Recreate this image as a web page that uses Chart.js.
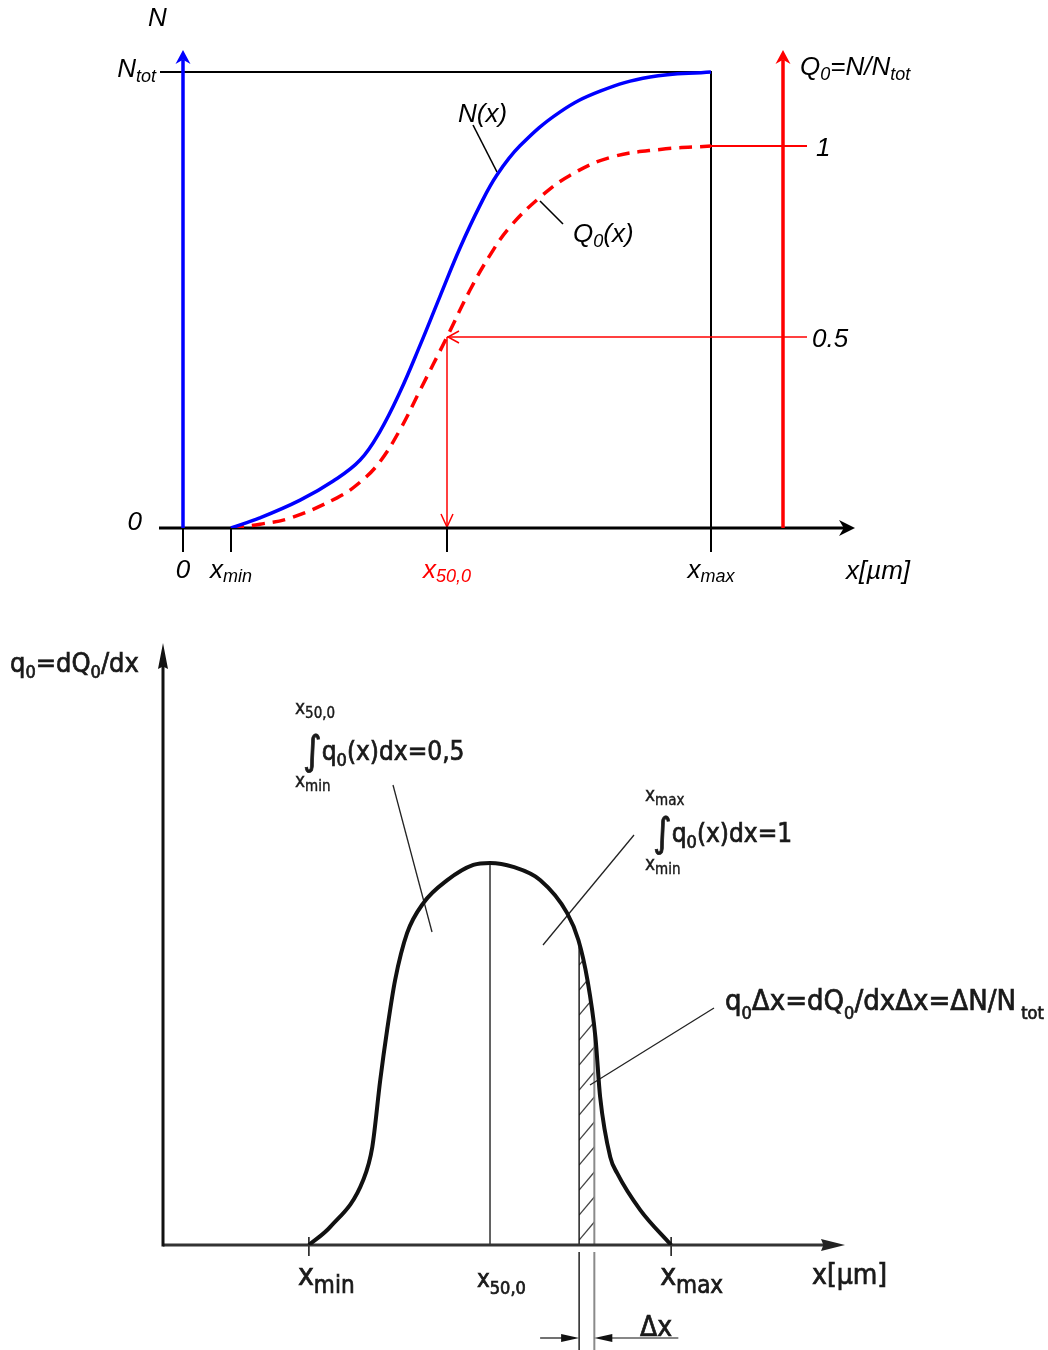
<!DOCTYPE html>
<html>
<head>
<meta charset="utf-8">
<script src="https://cdn.jsdelivr.net/npm/chart.js@4.4.1/dist/chart.umd.min.js"></script>
<style>
  body { margin: 0; background: #fff; }
  canvas { display: block; }
</style>
</head>
<body>
<canvas id="cumulative" width="1048" height="600"></canvas>
<canvas id="density" width="1048" height="750"></canvas>
<script>
// particle size x on an arbitrary scale: xmin = 1, xmax = 11
const nSizes = [1.0, 1.6, 2.44, 3.13, 3.69, 4.1, 4.52, 4.94, 5.35, 5.77, 6.19, 6.54, 7.02, 7.85, 8.69, 9.73, 11.0];
const nCount = [0, 0.022, 0.061, 0.103, 0.149, 0.211, 0.298, 0.401, 0.507, 0.614, 0.708, 0.774, 0.838, 0.912, 0.958, 0.989, 1.0]; // N / Ntot

const q0Sizes = [1.0, 1.6, 2.23, 3.21, 3.69, 4.1, 4.52, 4.94, 5.5, 5.98, 6.4, 6.81, 7.44, 8.06, 8.9, 9.94, 11.0];
const q0Cum = [0, 0.010, 0.026, 0.079, 0.120, 0.173, 0.257, 0.361, 0.5, 0.623, 0.715, 0.788, 0.866, 0.923, 0.970, 0.991, 1.0];

const topTicks = [0, 1, 5.5, 11];
const topTickLabels = [[['0', '']], [['x', ''], ['min', 'sub']], [['x', ''], ['50,0', 'sub']], [['x', ''], ['max', 'sub']]];
const q0Levels = [0.5, 1];
const q0LevelLabels = ['0.5', '1'];
const q0AxisAt = 12.5;

// density q0 = dQ0/dx
const densSizes = [1.0, 1.59, 2.5, 2.75, 2.97, 3.16, 3.38, 3.71, 4.16, 4.82, 5.54, 6.0, 6.64, 7.39, 8.13, 8.44, 8.69, 8.91, 9.04, 9.32, 9.51, 10.15, 11.0];
const densQ0 = [0, 0.045, 0.162, 0.244, 0.411, 0.536, 0.660, 0.777, 0.852, 0.909, 0.947, 0.952, 0.942, 0.909, 0.827, 0.760, 0.660, 0.518, 0.369, 0.219, 0.179, 0.087, 0];

const bottomTicks = [1, 6, 11];
const bottomTickLabels = [[['x', ''], ['min', 'sub']], [['x', ''], ['50,0', 'sub']], [['x', ''], ['max', 'sub']]];
const deltaX = [8.46, 8.88];

const ARIAL = '"Liberation Sans", Arial, sans-serif';
const DIN = '"DejaVu Sans Condensed", "DejaVu Sans", sans-serif';

function fontOf(family, size, italic) {
  return (italic ? 'italic ' : '') + size + 'px ' + family;
}

// text built from [string, kind, size, dy] parts; kind is '' or 'sub'
function richText(ctx, parts, x, y, o) {
  const size = o.size;
  const subSize = o.subSize || Math.round(size * 0.68);
  ctx.save();
  if ('fontStretch' in ctx && o.stretch) ctx.fontStretch = o.stretch;
  const pieces = parts.map(([t, kind, s0, dy0]) => {
    const s = s0 || (kind ? subSize : size);
    ctx.font = fontOf(o.family, s, o.italic);
    return { t, kind, s, dy0: dy0 || 0, w: ctx.measureText(t).width };
  });
  const total = pieces.reduce((a, p) => a + p.w, 0);
  let cx = o.align === 'center' ? x - total / 2 : o.align === 'right' ? x - total : x;
  ctx.fillStyle = o.color || '#000';
  ctx.strokeStyle = o.color || '#000';
  ctx.lineWidth = o.weight || 0;
  ctx.textBaseline = 'alphabetic';
  ctx.textAlign = 'left';
  for (const p of pieces) {
    ctx.font = fontOf(o.family, p.s, o.italic);
    const dy = (p.kind === 'sub' ? (o.drop !== undefined ? o.drop : size * 0.2) : 0) + p.dy0;
    ctx.fillText(p.t, cx, y + dy);
    if (o.weight) ctx.strokeText(p.t, cx, y + dy);
    cx += p.w;
  }
  ctx.restore();
}

function line(ctx, x1, y1, x2, y2, color, width, dash) {
  ctx.save();
  ctx.strokeStyle = color;
  ctx.lineWidth = width;
  ctx.setLineDash(dash || []);
  ctx.beginPath();
  ctx.moveTo(x1, y1);
  ctx.lineTo(x2, y2);
  ctx.stroke();
  ctx.restore();
}

// filled head with a notch at the back
function notchedHead(ctx, x, y, angle, len, half, color, notch) {
  ctx.save();
  ctx.translate(x, y);
  ctx.rotate(angle);
  ctx.beginPath();
  ctx.moveTo(0, 0);
  ctx.lineTo(-len, -half);
  ctx.lineTo(-len * (notch || 1), 0);
  ctx.lineTo(-len, half);
  ctx.closePath();
  ctx.fillStyle = color;
  ctx.fill();
  ctx.restore();
}

function openHead(ctx, x, y, angle, len, half, color, width) {
  ctx.save();
  ctx.translate(x, y);
  ctx.rotate(angle);
  ctx.strokeStyle = color;
  ctx.lineWidth = width;
  ctx.beginPath();
  ctx.moveTo(-len, -half);
  ctx.lineTo(0, 0);
  ctx.lineTo(-len, half);
  ctx.stroke();
  ctx.restore();
}

const UP = -Math.PI / 2, DOWN = Math.PI / 2, LEFT = Math.PI, RIGHT = 0;

const cumulativeDecor = {
  id: 'cumulativeDecor',
  beforeDatasetsDraw(chart) {
    const { ctx, chartArea: a } = chart;
    const x = chart.scales.x, yN = chart.scales.yN, yQ = chart.scales.yQ;
    const base = yN.getPixelForValue(0);
    const nTop = yN.getPixelForValue(1);
    const x0 = x.getPixelForValue(0);
    const xEnd = x.getPixelForValue(topTicks[3]);
    const qAxis = x.getPixelForValue(q0AxisAt);

    // Ntot level and the xmax drop line
    line(ctx, a.left + 1, nTop, xEnd, nTop, '#000', 2);
    line(ctx, xEnd, nTop - 1, xEnd, base + 24, '#000', 2);

    // tick marks below the axis
    topTicks.forEach(t => {
      const px = x.getPixelForValue(t);
      line(ctx, px, base, px, base + 24, '#000', 2);
    });

    // Q0 levels: 1 starts at the curve end, 0.5 points back to the curve
    q0Levels.forEach(v => {
      const py = yQ.getPixelForValue(v);
      const from = v === 1 ? xEnd : x.getPixelForValue(topTicks[2]);
      line(ctx, from, py, qAxis + 24, py, '#ff0000', v === 1 ? 2 : 1.5);
    });
    const xm = x.getPixelForValue(topTicks[2]);
    const ym = yQ.getPixelForValue(0.5);
    openHead(ctx, xm + 1, ym, LEFT, 11, 6, '#ff0000', 1.5);
    line(ctx, xm, ym, xm, base - 1, '#ff0000', 1.5);
    openHead(ctx, xm, base - 1, DOWN, 13, 6, '#ff0000', 1.5);

    // x axis
    line(ctx, a.left, base, a.right - 10, base, '#000', 3);
    notchedHead(ctx, a.right, base, RIGHT, 16, 8, '#000', 0.7);

    // N axis (blue) and Q0 axis (red)
    line(ctx, x0, base, x0, a.top + 10, '#0000ff', 3.5);
    notchedHead(ctx, x0, a.top, UP, 14, 7.5, '#0000ff', 0.7);
    line(ctx, qAxis, base, qAxis, a.top + 10, '#ff0000', 3.5);
    notchedHead(ctx, qAxis, a.top, UP, 14, 7.5, '#ff0000', 0.7);

    // leaders to the curve labels
    line(ctx, 473, 125, 497, 172, '#000', 1.6);
    line(ctx, 540, 201, 563, 224, '#000', 1.6);
  },
  afterDraw(chart) {
    const { ctx } = chart;
    const x = chart.scales.x, yN = chart.scales.yN, yQ = chart.scales.yQ;
    const base = yN.getPixelForValue(0);
    const qAxis = x.getPixelForValue(q0AxisAt);
    const t = { family: ARIAL, italic: true, size: 26, subSize: 18 };

    richText(ctx, [['N', '']], 148, 26, t);
    richText(ctx, [['N', ''], ['tot', 'sub']], 156, yN.getPixelForValue(1) + 5, { ...t, align: 'right', drop: 5 });
    richText(ctx, [['Q', ''], ['0', 'sub'], ['=N/N', ''], ['tot', 'sub']], qAxis + 17, 75, { ...t, drop: 5 });
    richText(ctx, [['0', '']], 142, base + 2, { ...t, align: 'right' });

    q0Levels.forEach((v, i) => {
      richText(ctx, [[q0LevelLabels[i], '']], qAxis + (v === 1 ? 33 : 29), yQ.getPixelForValue(v) + 10, t);
    });

    topTicks.forEach((tv, i) => {
      richText(ctx, topTickLabels[i], x.getPixelForValue(tv), base + 50, {
        ...t, align: 'center', drop: 4, color: i === 2 ? '#ff0000' : '#000'
      });
    });
    richText(ctx, [['x[\u00b5m]', '']], 846, base + 51, t);

    richText(ctx, [['N(x)', '']], 458, 122, t);
    richText(ctx, [['Q', ''], ['0', 'sub'], ['(x)', '']], 573, 242, { ...t, drop: 5 });
  }
};

new Chart(document.getElementById('cumulative'), {
  type: 'line',
  data: {
    datasets: [
      {
        label: 'N(x)',
        data: nSizes.map((v, i) => ({ x: v, y: nCount[i] })),
        yAxisID: 'yN',
        borderColor: '#0000ff',
        borderWidth: 3.5,
        pointRadius: 0,
        tension: 0.4,
        fill: false
      },
      {
        label: 'Q0(x)',
        data: q0Sizes.map((v, i) => ({ x: v, y: q0Cum[i] })),
        yAxisID: 'yQ',
        borderColor: '#ff0000',
        borderWidth: 3.5,
        borderDash: [13, 8],
        pointRadius: 0,
        tension: 0.4,
        fill: false
      }
    ]
  },
  options: {
    responsive: false,
    animation: false,
    events: [],
    layout: { padding: { left: 159, right: 193, top: 50, bottom: 72 } },
    scales: {
      x: { type: 'linear', display: false, min: -0.5, max: 14 },
      yN: { type: 'linear', display: false, min: 0, max: 1.0482 },
      yQ: { type: 'linear', display: false, min: 0, max: 1.2513 }
    },
    plugins: { legend: { display: false }, tooltip: { enabled: false } }
  },
  plugins: [cumulativeDecor]
});

const densityDecor = {
  id: 'densityDecor',
  beforeDatasetsDraw(chart) {
    const { ctx, chartArea: a } = chart;
    const x = chart.scales.x, y = chart.scales.y;
    const base = y.getPixelForValue(0);
    const curve = chart.getDatasetMeta(0).dataset;
    const xl = x.getPixelForValue(deltaX[0]);
    const xr = x.getPixelForValue(deltaX[1]);

    // area under the curve, used to trim the median line and the strip
    ctx.save();
    ctx.beginPath();
    curve.path(ctx);
    ctx.lineTo(x.getPixelForValue(bottomTicks[2]), base);
    ctx.lineTo(x.getPixelForValue(bottomTicks[0]), base);
    ctx.closePath();
    ctx.clip();
    const xm = x.getPixelForValue(bottomTicks[1]);
    line(ctx, xm, a.top, xm, base, '#111', 1.3);
    ctx.save();
    ctx.beginPath();
    ctx.rect(xl, a.top, xr - xl, base - a.top);
    ctx.clip();
    for (let yb = base + 20; yb > a.top; yb -= 25) {
      line(ctx, xl, yb, xr, yb - 18, '#444', 1.2);
    }
    ctx.restore();
    line(ctx, xl, a.top, xl, base, '#111', 1.4);
    line(ctx, xr, a.top, xr, base, '#8a8a8a', 2);
    ctx.restore();

    // strip edges continue below the axis
    line(ctx, xl, base + 7, xl, chart.height, '#111', 1.4);
    line(ctx, xr, base + 7, xr, chart.height, '#8a8a8a', 2);

    // tick marks at xmin and xmax
    [bottomTicks[0], bottomTicks[2]].forEach(tv => {
      const px = x.getPixelForValue(tv);
      line(ctx, px, base - 8, px, base + 11, '#111', 1.5);
    });

    // axes
    line(ctx, a.left - 1, base, a.right - 14, base, '#333', 3);
    notchedHead(ctx, a.right, base, RIGHT, 24, 6, '#222', 0.9);
    line(ctx, a.left - 1, base + 1.5, a.left - 1, a.top + 16, '#111', 3);
    notchedHead(ctx, a.left - 1, a.top, UP, 26, 5, '#111', 0.9);

    // dimension line for delta x
    const dy = 738;
    line(ctx, xl - 39, dy, xl - 8, dy, '#111', 1.2);
    notchedHead(ctx, xl, dy, RIGHT, 18, 4, '#111', 1);
    line(ctx, xr + 8, dy, xr + 84, dy, '#111', 1.2);
    notchedHead(ctx, xr, dy, LEFT, 18, 4, '#111', 1);

    // leaders
    line(ctx, 393, 185, 432, 332, '#222', 1.3);
    line(ctx, 634, 235, 543, 345, '#222', 1.3);
    line(ctx, 714, 408, 590, 485, '#222', 1.3);
  },
  afterDraw(chart) {
    const { ctx } = chart;
    const x = chart.scales.x, y = chart.scales.y;
    const base = y.getPixelForValue(0);
    const t = { family: DIN, size: 28, subSize: 18, stretch: 'condensed', color: '#1a1a1a', weight: 0.7 };
    const small = { ...t, size: 19, subSize: 15, drop: 4, weight: 0.4 };

    richText(ctx, [['q', ''], ['0', 'sub'], ['=dQ', ''], ['0', 'sub'], ['/dx', '']], 10, 72, { ...t, size: 27, drop: 6 });

    richText(ctx, [['x', ''], ['50,0', 'sub']], 295, 114, small);
    richText(ctx, [['\u222b', '', 40, 4], ['q', ''], ['0', 'sub'], ['(x)dx=0,5', '']], 303, 160, { ...t, size: 26, drop: 6 });
    richText(ctx, [['x', ''], ['min', 'sub']], 295, 187, small);

    richText(ctx, [['x', ''], ['max', 'sub']], 645, 201, small);
    richText(ctx, [['\u222b', '', 40, 4], ['q', ''], ['0', 'sub'], ['(x)dx=1', '']], 653, 242, { ...t, size: 26, drop: 6 });
    richText(ctx, [['x', ''], ['min', 'sub']], 645, 270, small);

    richText(ctx, [['q', ''], ['0', 'sub'], ['\u0394x=dQ', ''], ['0', 'sub'], ['/dx\u0394x=\u0394N/N', ''], [' tot', 'sub']], 725, 410, { ...t, size: 29, drop: 9 });

    bottomTicks.forEach((tv, i) => {
      const big = i !== 1;
      richText(ctx, bottomTickLabels[i], x.getPixelForValue(tv) - (big ? 11 : 13), base + (big ? 40 : 42), {
        ...t, size: big ? 30 : 24, subSize: big ? 24 : 18, drop: big ? 8 : 7
      });
    });
    richText(ctx, [['x[\u00b5m]', '']], 812, base + 39, { ...t, size: 28 });
    richText(ctx, [['\u0394x', '']], 640, 736, t);
  }
};

new Chart(document.getElementById('density'), {
  type: 'line',
  data: {
    datasets: [{
      label: 'q0(x)',
      data: densSizes.map((v, i) => ({ x: v, y: densQ0[i] })),
      borderColor: '#111',
      borderWidth: 4,
      pointRadius: 0,
      cubicInterpolationMode: 'monotone',
      fill: false
    }]
  },
  options: {
    responsive: false,
    animation: false,
    events: [],
    layout: { padding: { left: 164, right: 203, top: 43, bottom: 105 } },
    scales: {
      x: { type: 'linear', display: false, min: -3, max: 15.8 },
      y: { type: 'linear', display: false, min: 0, max: 1.5 }
    },
    plugins: { legend: { display: false }, tooltip: { enabled: false } }
  },
  plugins: [densityDecor]
});
</script>
</body>
</html>
